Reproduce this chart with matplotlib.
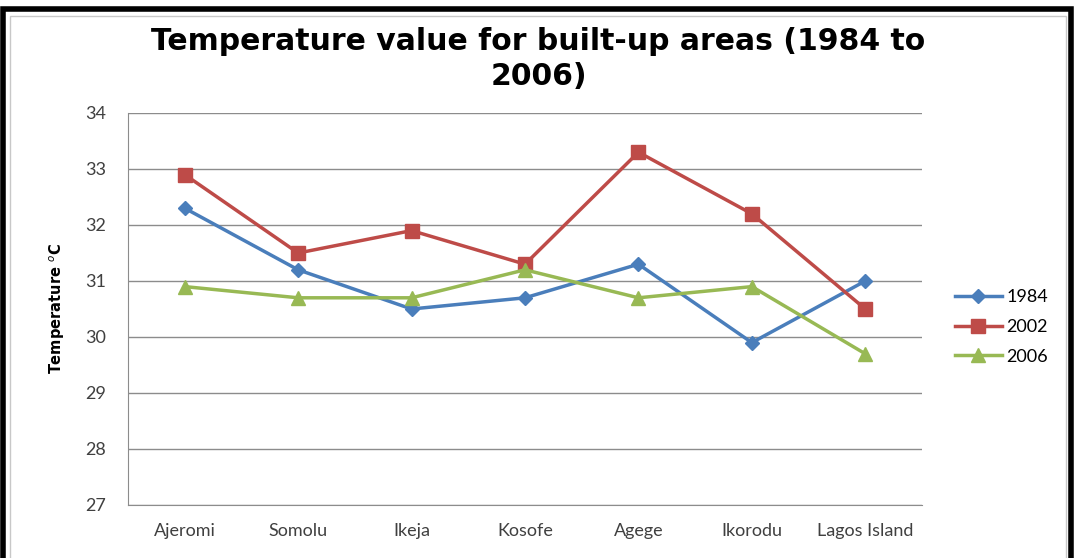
import matplotlib.pyplot as plt
from matplotlib.patches import Rectangle

# Data
areas = ['Ajeromi', 'Somolu', 'Ikeja', 'Kosofe', 'Agege', 'Ikorodu', 'Lagos Island']
t1984 = [32.3, 31.2, 30.5, 30.7, 31.3, 29.9, 31.0]
t2002 = [32.9, 31.5, 31.9, 31.3, 33.3, 32.2, 30.5]
t2006 = [30.9, 30.7, 30.7, 31.2, 30.7, 30.9, 29.7]
y_ticks = [27, 28, 29, 30, 31, 32, 33, 34]

plt.rcParams['font.family'] = ['Lato', 'DejaVu Sans']

fig = plt.figure(figsize=(10.77, 5.58), dpi=100)
ax = fig.add_axes([128 / 1077, 1 - 505 / 558, 794 / 1077, 392 / 558])

x = range(len(areas))
ax.plot(x, t1984, color='#4A7EBB', lw=2.5, marker='D', ms=7, label='1984')
ax.plot(x, t2002, color='#BE4B48', lw=2.5, marker='s', ms=10, label='2002')
ax.plot(x, t2006, color='#98B954', lw=2.5, marker='^', ms=10, label='2006')

ax.set_xlim(-0.5, len(areas) - 0.5)
ax.set_ylim(27, 34)
ax.set_yticks(y_ticks)
ax.set_xticks(list(x))
ax.set_xticklabels(areas)
ax.yaxis.grid(True, color='#8c8c8c', lw=1)
ax.set_axisbelow(True)
for s in ['top', 'right']:
    ax.spines[s].set_visible(False)
for s in ['left', 'bottom']:
    ax.spines[s].set_color('#8c8c8c')
ax.tick_params(length=0, labelsize=13, colors='#404040', pad=16)
ax.tick_params(axis='x', pad=13)

ax.set_ylabel('Temperature $^{o}$C', fontsize=10.5, fontweight='bold',
              family=['Liberation Sans Narrow', 'DejaVu Sans'], labelpad=13)

fig.text(0.5, 1 - 59 / 558, 'Temperature value for built-up areas (1984 to\n2006)',
         ha='center', va='center', fontsize=21.5, fontweight='bold',
         family='DejaVu Sans', linespacing=1.25)

ax.legend(loc='center left', bbox_to_anchor=(955 / 1077, 1 - 327 / 558),
          bbox_transform=fig.transFigure, frameon=False, borderpad=0,
          borderaxespad=0, fontsize=13, handlelength=2.6, handletextpad=0.25,
          labelspacing=0.75)

# picture frame
fig.patches.append(Rectangle((3 / 1077, -0.02), 1068 / 1077, 1 - 9 / 558 + 0.02,
                             transform=fig.transFigure, fill=False,
                             edgecolor='black', lw=4))
fig.patches.append(Rectangle((10 / 1077, -0.02), 1056 / 1077, 1 - 16 / 558 + 0.02,
                             transform=fig.transFigure, fill=False,
                             edgecolor='#c8c8c8', lw=1))

fig.savefig('out.png', dpi=100)
